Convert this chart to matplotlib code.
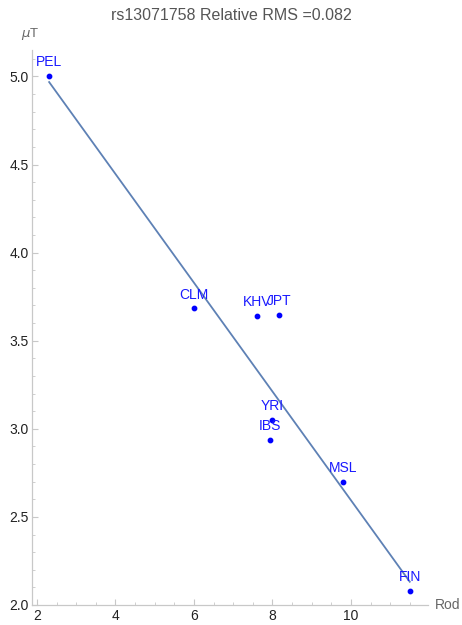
import matplotlib
matplotlib.use("Agg")
import matplotlib.pyplot as plt
from matplotlib.ticker import MultipleLocator
import numpy as np

plt.rcParams["font.family"] = ["Liberation Sans", "DejaVu Sans"]

pops = ["PEL", "CLM", "KHV", "JPT", "YRI", "IBS", "MSL", "FIN"]
rod = [2.31, 6.01, 7.61, 8.16, 7.99, 7.93, 9.80, 11.51]
ut = [5.00, 3.683, 3.641, 3.647, 3.051, 2.936, 2.698, 2.081]
fit_x = [2.31, 11.50]
fit_y = [4.968, 2.132]

fig = plt.figure(figsize=(4.62, 6.25), dpi=100)
ax = fig.add_axes([0.069, 0.032, 0.857, 0.888])
ax.set_xlim(1.87, 11.96)
ax.set_ylim(2.0, 5.15)

ax.plot(fit_x, fit_y, color="#5E81B5", lw=1.3, zorder=2)
ax.scatter(rod, ut, s=10, color="#0000ff", zorder=3)
for p, x, y in zip(pops, rod, ut):
    ax.annotate(p, (x, y), xytext=(0, 5), textcoords="offset points",
                ha="center", va="bottom", color="#1a1aff", fontsize=10)

for s in ["top", "right"]:
    ax.spines[s].set_visible(False)
for s in ["left", "bottom"]:
    ax.spines[s].set_color("#c8c8c8")
    ax.spines[s].set_linewidth(0.9)

ax.xaxis.set_minor_locator(MultipleLocator(0.5))
ax.yaxis.set_minor_locator(MultipleLocator(0.1))
ax.set_xticks([2, 4, 6, 8, 10])
ax.set_yticks([2.0, 2.5, 3.0, 3.5, 4.0, 4.5, 5.0])
ax.set_yticklabels(["2.0", "2.5", "3.0", "3.5", "4.0", "4.5", "5.0"])
ax.tick_params(which="major", direction="in", length=4, color="#c8c8c8",
               labelsize=10, labelcolor="#222222")
ax.tick_params(which="minor", direction="in", length=2, color="#c8c8c8")
ax.tick_params(axis="y", pad=2)
ax.tick_params(axis="x", pad=3)

fig.text(0.5, 0.975, "rs13071758 Relative RMS =0.082", ha="center", va="center",
         fontsize=11.5, color="#555555")
fig.text(0.065, 0.945, r"$\mu$T", ha="center", va="center", fontsize=9.5, color="#666666")
fig.text(0.968, 0.032, "Rod", ha="center", va="center", fontsize=10, color="#666666")

fig.savefig("out.png", dpi=100)
